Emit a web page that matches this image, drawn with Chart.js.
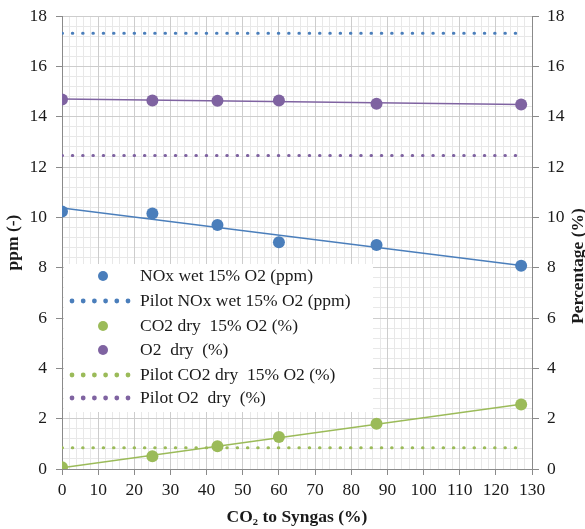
<!DOCTYPE html>
<html>
<head>
<meta charset="utf-8">
<script src="https://cdn.jsdelivr.net/npm/chart.js@4.4.1/dist/chart.umd.min.js"></script>
<style>
  html, body { margin: 0; padding: 0; background: #fff; }
</style>
</head>
<body>
<canvas id="chart" width="585" height="529"></canvas>
<script>
// values
const xValues = [0, 25, 43, 60, 87, 127];
const noxWet = [10.23, 10.15, 9.7, 9.01, 8.9, 8.08];
const co2Dry = [0.07, 0.51, 0.9, 1.27, 1.8, 2.56];
const o2Dry = [14.68, 14.64, 14.63, 14.64, 14.51, 14.48];

// linear trend lines as drawn in the picture (start / end)
const trendX = [0, 127];
const noxTrend = [10.37, 8.09];
const co2Trend = [0.05, 2.57];
const o2Trend = [14.7, 14.48];

// pilot reference levels
const pilotX = [0, 128];
const pilotNox = [17.31, 17.31];
const pilotCo2 = [0.84, 0.84];
const pilotO2 = [12.46, 12.46];

const legendLabels = [
  "NOx wet 15% O2 (ppm)",
  "Pilot NOx wet 15% O2 (ppm)",
  "CO2 dry  15% O2 (%)",
  "O2  dry  (%)",
  "Pilot CO2 dry  15% O2 (%)",
  "Pilot O2  dry  (%)",
];

const blue = "#4a7ebb";
const green = "#9bbb59";
const purple = "#7f63a1";
const serif = "'Liberation Serif', 'DejaVu Serif', serif";

const pts = (xs, ys) => xs.map((x, i) => ({ x: x, y: ys[i] }));

function markerSet(label, ys, color, axis) {
  return {
    label: label,
    data: pts(xValues, ys),
    showLine: false,
    pointRadius: 6,
    pointHoverRadius: 6,
    backgroundColor: color,
    borderWidth: 0,
    yAxisID: axis,
    legendKind: "marker",
  };
}

function trendSet(ys, color, axis) {
  return {
    label: "",
    data: pts(trendX, ys),
    showLine: true,
    pointRadius: 0,
    borderColor: color,
    borderWidth: 1.5,
    yAxisID: axis,
    legendKind: "none",
  };
}

function pilotSet(label, ys, color, axis) {
  return {
    label: label,
    data: pts(pilotX, ys),
    showLine: true,
    pointRadius: 0,
    borderColor: color,
    borderWidth: 3,
    borderDash: [0.5, 9.8],
    borderCapStyle: "round",
    yAxisID: axis,
    legendKind: "dots",
  };
}

const datasets = [
  trendSet(noxTrend, blue, "y"),
  trendSet(co2Trend, green, "y1"),
  trendSet(o2Trend, purple, "y1"),
  pilotSet(legendLabels[1], pilotNox, blue, "y"),
  pilotSet(legendLabels[4], pilotCo2, green, "y1"),
  pilotSet(legendLabels[5], pilotO2, purple, "y1"),
  markerSet(legendLabels[0], noxWet, blue, "y"),
  markerSet(legendLabels[2], co2Dry, green, "y1"),
  markerSet(legendLabels[3], o2Dry, purple, "y1"),
];

// legend drawn inside the plot, in the reference's order
const insideLegend = {
  id: "insideLegend",
  afterDatasetsDraw(chart) {
    const ctx = chart.ctx;
    const area = chart.chartArea;
    const x0 = area.left + 2, y0 = 264, w = 309, h = 148;
    ctx.save();
    ctx.fillStyle = "#ffffff";
    ctx.fillRect(x0, y0, w, h);
    ctx.font = "17.5px " + serif;
    ctx.textBaseline = "middle";
    const rowY = [276, 301, 326, 350, 375, 398];
    legendLabels.forEach((label, i) => {
      const ds = chart.data.datasets.find(d => d.label === label);
      const y = rowY[i];
      if (ds.legendKind === "marker") {
        ctx.fillStyle = ds.backgroundColor;
        ctx.beginPath();
        ctx.arc(x0 + 39, y, 5, 0, Math.PI * 2);
        ctx.fill();
      } else {
        ctx.fillStyle = ds.borderColor;
        for (let k = 0; k < 6; k++) {
          ctx.beginPath();
          ctx.arc(x0 + 8 + k * 11.2, y, 2.4, 0, Math.PI * 2);
          ctx.fill();
        }
      }
      ctx.fillStyle = "#1a1a1a";
      ctx.fillText(label, x0 + 76, y);
    });
    ctx.restore();
  },
};

// right axis title reads bottom-to-top like the left one
const rightTitle = {
  id: "rightTitle",
  afterDraw(chart) {
    const ctx = chart.ctx;
    ctx.save();
    ctx.translate(578, 266);
    ctx.rotate(-Math.PI / 2);
    ctx.font = "bold 17.5px " + serif;
    ctx.fillStyle = "#1a1a1a";
    ctx.textAlign = "center";
    ctx.textBaseline = "middle";
    ctx.fillText("Percentage (%)", 0, 0);
    ctx.restore();
  },
};

const tickFont = { family: serif, size: 17.5 };
const titleFont = { family: serif, size: 17.5, weight: "bold" };
const majorGrid = "#cdcdcd";
const minorGrid = "#e8e8e8";
const axisLine = "#8a8a8a";

// keep the plot box where the reference has it
function fitVertical(width) {
  return function (s) {
    s.width = width;
    s.paddingTop = 0;
    s.paddingBottom = 0;
  };
}

new Chart(document.getElementById("chart"), {
  type: "scatter",
  data: { datasets: datasets },
  options: {
    responsive: false,
    animation: false,
    devicePixelRatio: 1,
    layout: { padding: { top: 16, left: 0, right: 0, bottom: 0 } },
    plugins: {
      legend: { display: false },
      tooltip: { enabled: false },
    },
    scales: {
      x: {
        type: "linear",
        position: "bottom",
        min: 0,
        max: 130,
        ticks: { stepSize: 10, font: tickFont, color: "#1a1a1a", padding: 5, maxRotation: 0 },
        grid: { color: majorGrid, tickColor: axisLine, tickLength: 6, z: -1 },
        border: { color: axisLine },
        title: {
          display: true,
          text: "CO₂ to Syngas (%)",
          font: titleFont,
          color: "#1a1a1a",
          padding: { top: 0, bottom: 1 },
        },
        afterFit(s) { s.height = 60; },
      },
      xMinor: {
        type: "linear",
        position: "bottom",
        min: 0,
        max: 130,
        ticks: { display: false, stepSize: 2 },
        grid: { color: minorGrid, drawTicks: false, z: -2 },
        border: { display: false },
        afterFit(s) { s.height = 0; },
      },
      y: {
        type: "linear",
        position: "left",
        min: 0,
        max: 18,
        ticks: { stepSize: 2, font: tickFont, color: "#1a1a1a", padding: 9 },
        grid: { color: majorGrid, tickColor: axisLine, tickLength: 6, z: -1 },
        border: { color: axisLine },
        title: {
          display: true,
          text: "ppm (-)",
          font: titleFont,
          color: "#1a1a1a",
          padding: { top: 3, bottom: 0 },
        },
        afterFit: fitVertical(62),
      },
      yMinor: {
        type: "linear",
        position: "left",
        min: 0,
        max: 18,
        ticks: { display: false, stepSize: 0.4 },
        grid: { color: minorGrid, drawTicks: false, z: -2 },
        border: { display: false },
        afterFit: fitVertical(0),
      },
      y1: {
        type: "linear",
        position: "right",
        min: 0,
        max: 18,
        ticks: { stepSize: 2, font: tickFont, color: "#1a1a1a", padding: 8 },
        grid: { drawOnChartArea: false, tickColor: axisLine, tickLength: 7 },
        border: { color: axisLine },
        afterFit: fitVertical(53),
      },
    },
  },
  plugins: [insideLegend, rightTitle],
});
</script>
</body>
</html>
